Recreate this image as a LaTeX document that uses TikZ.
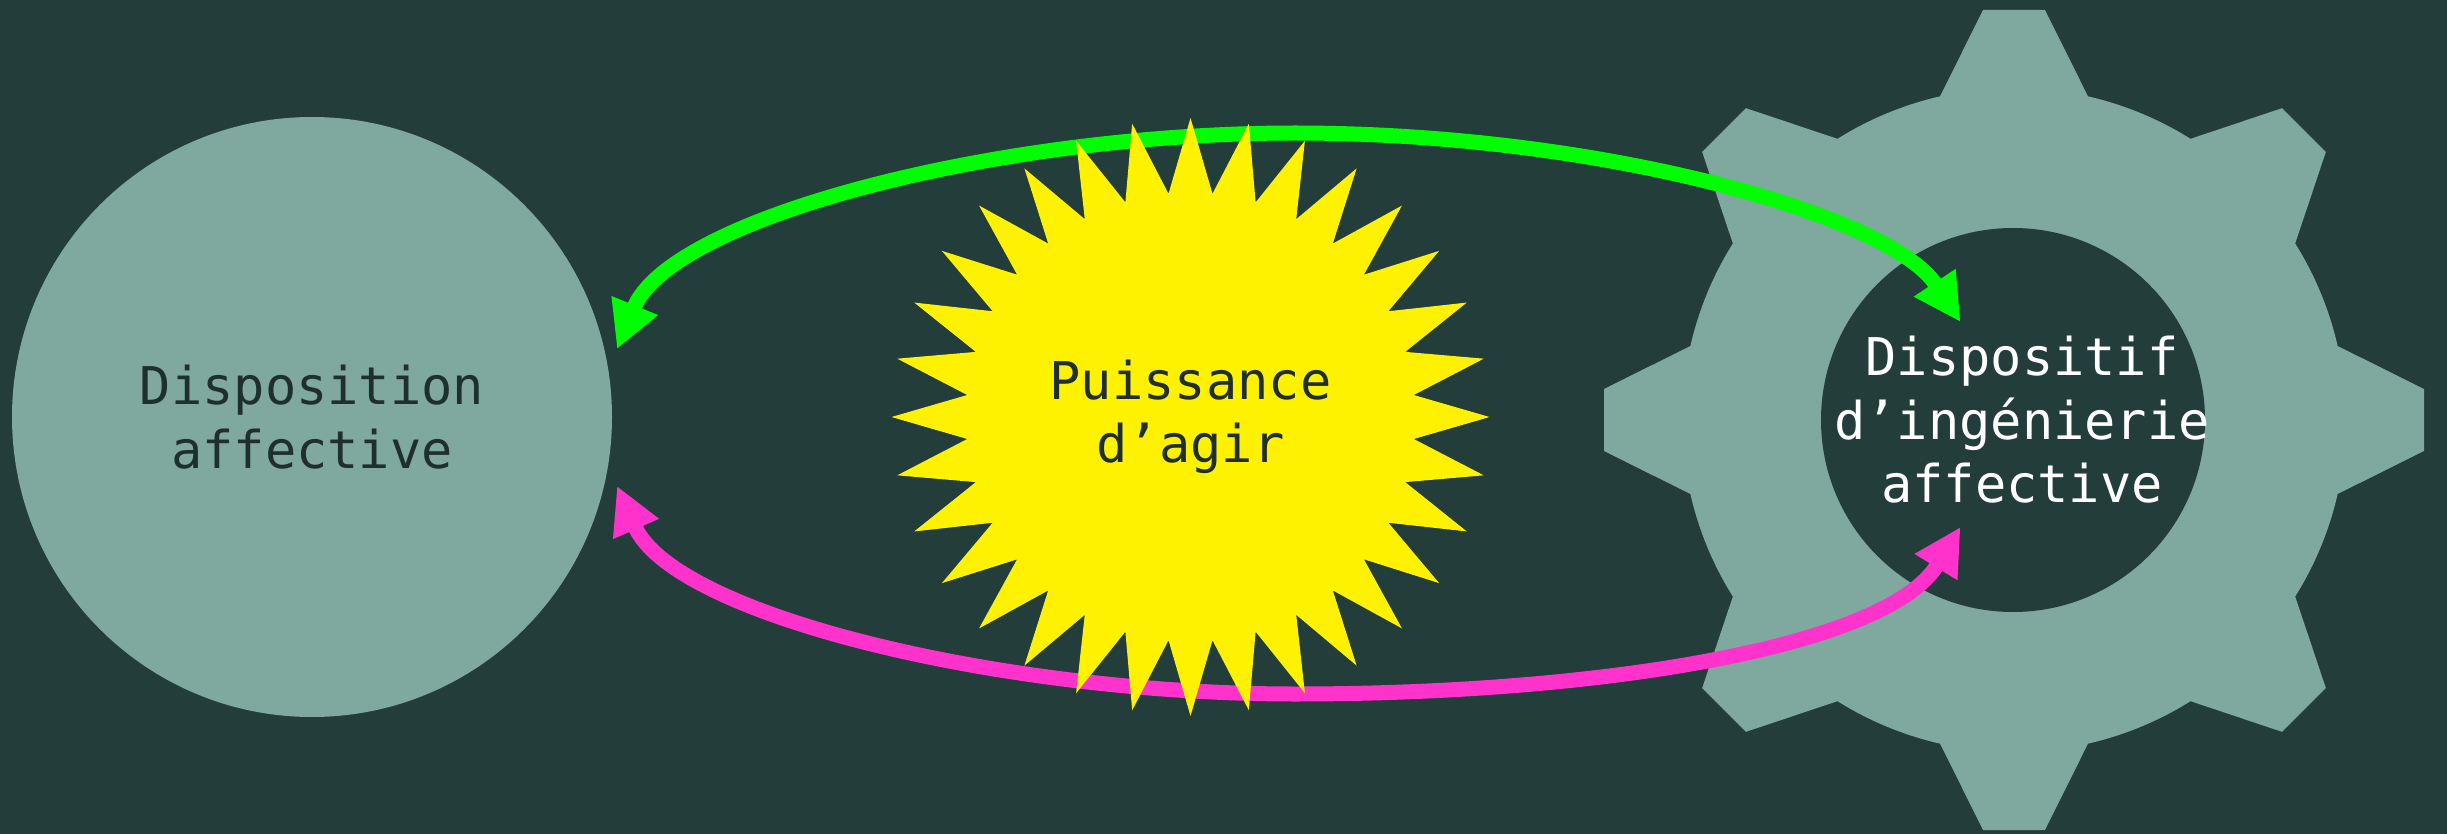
\documentclass[tikz,border=0pt]{standalone}
\usepackage{fontspec}
\setmainfont{DejaVu Sans Mono}
\usetikzlibrary{arrows.meta,shapes.geometric}
\definecolor{bgc}{HTML}{233D3A}
\definecolor{lightc}{HTML}{7FA89F}
\definecolor{darktext}{HTML}{1F2F2C}
\definecolor{greenc}{HTML}{00FF00}
\definecolor{magc}{HTML}{FF33CC}
\tikzset{
  lbl/.style={font=\fontsize{26}{31.75}\selectfont,align=center,inner sep=0pt},
  disc/.style={circle,fill=lightc,draw=none,minimum size=300pt,inner sep=0pt,lbl,text=darktext},
  sun/.style={star,star points=32,star point ratio=1.333,fill=yellow,draw=none,minimum size=299pt,inner sep=0pt,lbl,text=darktext},
  holeshape/.style={circle,fill=bgc,draw=none,minimum size=192pt,inner sep=0pt},
  link/.style={line width=7.5pt,{Triangle[length=23.5pt,width=23.5pt]}-{Triangle[length=23.5pt,width=23.5pt]}},
}
\begin{document}
\begin{tikzpicture}[x=.5pt,y=-.5pt]
\path[use as bounding box,fill=bgc] (0,0) rectangle (2447,834);
\node[disc] (disposition) at (312,417) {Disposition\\affective};
% gear
\begin{scope}[shift={(2014,420)},x=.5pt,y=.5pt]
\fill[lightc] (-12.88:332)
  \foreach \a in {0,45,...,315} {
    -- ({\a-12.88}:332) -- ({\a-4.32}:411.2) -- ({\a+4.32}:411.2) -- ({\a+12.88}:332)
    arc[start angle=\a+12.88,end angle=\a+32.12,radius=332]
  } -- cycle;
\end{scope}
\node[holeshape] (hole) at (2013,420) {};
% connector ends and controls
\coordinate (gl) at (617,349);
\coordinate (gr) at (1960.5,322);
\coordinate (gp) at (1295,133);
\coordinate (ml) at (617,486);
\coordinate (mr) at (1960.5,527);
\coordinate (mp) at (1295,694);
\draw[link,greenc] (gl) .. controls (671,217) and (1000,133) .. (gp)
   .. controls (1600,133) and (1890,215) .. (gr);
\draw[link,magc] (ml) .. controls (674,615) and (1000,694) .. (mp)
   .. controls (1600,694) and (1887,647) .. (mr);
\node[sun] (puissance) at (1190.5,417) {Puissance\\d’agir};
\node[lbl,text=white] (dispositif) at (2022,420) {Dispositif\\d’ingénierie\\affective};
\end{tikzpicture}
\end{document}
